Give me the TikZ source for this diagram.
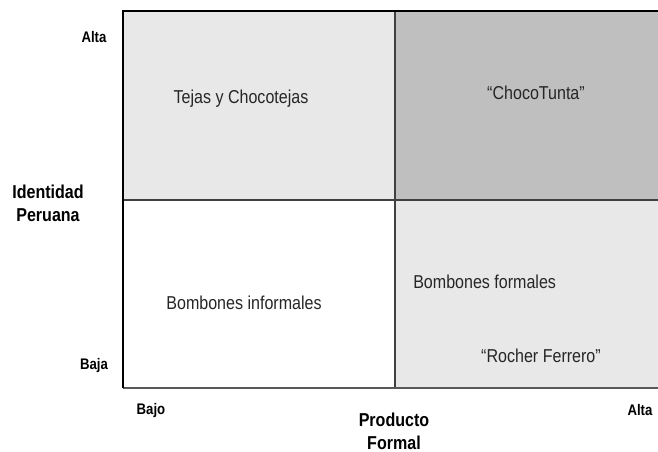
\documentclass[tikz,border=0pt]{standalone}
\usepackage{fontspec}
\setmainfont{Liberation Sans}[FakeStretch=0.86]
\begin{document}
\begin{tikzpicture}[x=0.75pt,y=-0.75pt,
		every node/.style={inner sep=0pt},
		celltext/.style={font=\fontsize{14}{16}\selectfont,text=black!85},
		axistext/.style={font=\fontsize{14}{17}\selectfont\bfseries,align=center},
		ticktext/.style={font=\fontsize{11.5}{13}\selectfont\bfseries},
		lightcell/.style={fill=black!9},
		darkcell/.style={fill=black!25}]
		
		\useasboundingbox (0,0) rectangle (658,452);
		\coordinate (nw) at (123,11);
		\coordinate (n) at (395,11);
		\coordinate (ne) at (658,11);
		\coordinate (w) at (123,200);
		\coordinate (c) at (395,200);
		\coordinate (e) at (658,200);
		\coordinate (sw) at (123,388);
		\coordinate (s) at (395,388);
		\coordinate (se) at (658,388);
		
		\fill[lightcell] (nw) rectangle (c);
		\fill[darkcell]  (n) rectangle (e);
		\fill[lightcell] (c) rectangle (se);
		\draw[black!75,line width=1pt] (n) -- (s);
		\draw[black!75,line width=1pt] (w) -- (e);
		\draw[black!65,line width=1.4pt] (sw) -- (se);
		\draw[line width=1.2pt] (ne) -- (nw) -- (sw);
		
		\node[celltext] (tejas) at (241,99) {Tejas y Chocotejas};
		\node[celltext] (choco) at (536,93) {``ChocoTunta''};
		\node[celltext] (bominf) at (244,303) {Bombones informales};
		\node[celltext,anchor=west] (bomfor) at (413,282) {Bombones formales};
		\node[celltext] (rocher) at (541,356) {``Rocher Ferrero''};
		
		\node[ticktext] (yalta) at (94,37) {Alta};
		\node[ticktext] (ybaja) at (94,366) {Baja};
		\node[ticktext] (xbajo) at (151,411) {Bajo};
		\node[ticktext] (xalta) at (640,410) {Alta};
		\node[axistext] (yaxis) at (48,203) {Identidad\\Peruana};
		\node[axistext] (xaxis) at (394,431) {Producto\\Formal};
		\end{tikzpicture}
\end{document}
